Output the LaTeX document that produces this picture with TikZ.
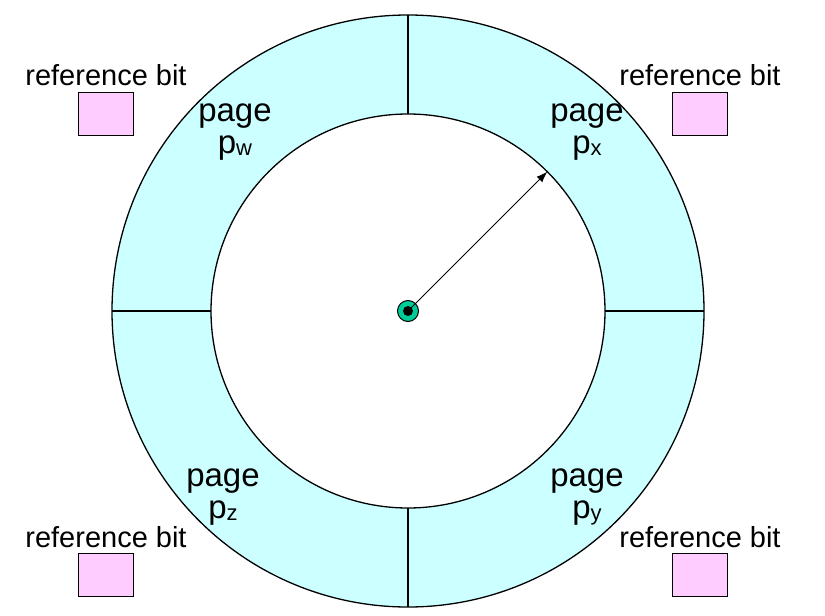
\documentclass[tikz,border=0pt]{standalone}
\usepackage{fontspec}
\setmainfont{Liberation Sans}
\usepackage{xcolor}
\usetikzlibrary{positioning,arrows.meta}
\definecolor{ringcyan}{RGB}{204,255,255}
\definecolor{bitpink}{RGB}{255,204,255}
\definecolor{hubgreen}{RGB}{0,204,153}
\newcommand{\pgsub}[1]{p\raisebox{-2pt}{\fontsize{22}{22}\selectfont #1}}

\begin{document}
\begin{tikzpicture}[x=1pt, y=-1pt, node distance=7pt,
    pagelabel/.style={align=center, inner sep=0pt, font=\fontsize{33}{32}\selectfont},
    bitlabel/.style={anchor=base, inner sep=0pt, font=\fontsize{29}{29}\selectfont},
    bitbox/.style={rectangle, draw, line width=1pt, fill=bitpink, minimum width=55pt, minimum height=43pt, inner sep=0pt}]
    \useasboundingbox (0,0) rectangle (825,616);
    \coordinate (c) at (408,311);

    % ring of pages
    \fill[ringcyan, even odd rule] (c) circle[radius=296] (c) circle[radius=197];
    \draw[line width=1.3pt] (c) circle[radius=296];
    \draw[line width=1.3pt] (c) circle[radius=197];
    \foreach \a in {0,90,180,270}
        \draw[line width=1.6pt, shift={(c)}] (\a:197) -- (\a:296);

    \node[pagelabel] (pw) at (235,132) {page\\\pgsub{w}};
    \node[pagelabel] (px) at (587,132) {page\\\pgsub{x}};
    \node[pagelabel] (pz) at (223,497) {page\\\pgsub{z}};
    \node[pagelabel] (py) at (587,497) {page\\\pgsub{y}};

    % clock hand
    \node[circle, draw, line width=1pt, fill=hubgreen, minimum size=21pt, inner sep=0pt] (hub) at (c) {};
    \node[circle, fill=black, minimum size=10pt, inner sep=0pt] (pivot) at (c) {};
    \path (c) ++(-45:197) coordinate (tip);
    \draw[line width=1pt, -{Latex[length=11pt,width=8pt]}] (pivot.center) -- (tip);

    % reference bits
    \node[bitlabel] (rbw) at (106,85) {reference bit};
    \node[bitbox, below=7pt of rbw] (bw) {};
    \node[bitlabel] (rbx) at (700,85) {reference bit};
    \node[bitbox, below=7pt of rbx] (bx) {};
    \node[bitlabel] (rbz) at (106,547) {reference bit};
    \node[bitbox, below=6pt of rbz] (bz) {};
    \node[bitlabel] (rby) at (700,547) {reference bit};
    \node[bitbox, below=6pt of rby] (by) {};
\end{tikzpicture}
\end{document}
